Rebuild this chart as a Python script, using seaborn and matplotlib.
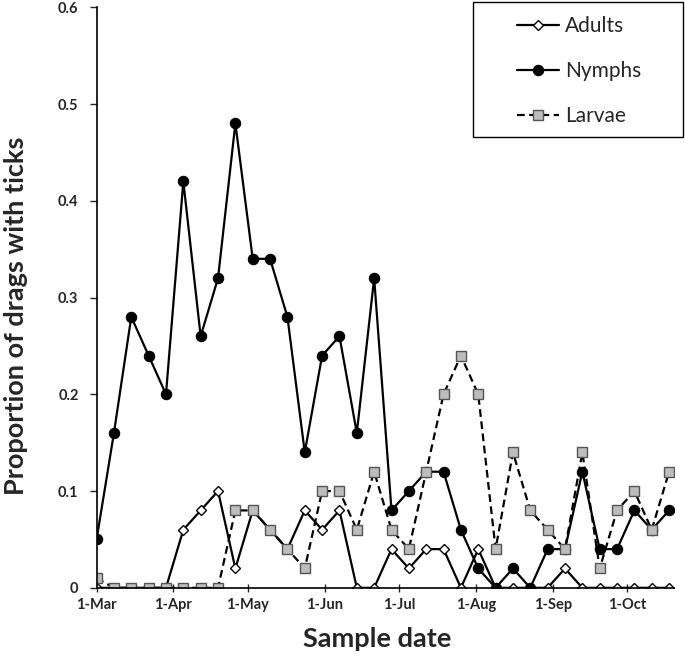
import matplotlib
matplotlib.use("Agg")
import matplotlib.pyplot as plt
import matplotlib.dates as mdates
from matplotlib.patches import Rectangle
import pandas as pd
import seaborn as sns

# Weekly sample dates (Mar - Oct)
sample_dates = [
    "2013-03-01", "2013-03-08", "2013-03-15", "2013-03-22", "2013-03-29",
    "2013-04-05", "2013-04-12", "2013-04-19", "2013-04-26",
    "2013-05-03", "2013-05-10", "2013-05-17", "2013-05-24", "2013-05-31",
    "2013-06-07", "2013-06-14", "2013-06-21", "2013-06-28",
    "2013-07-05", "2013-07-12", "2013-07-19", "2013-07-26",
    "2013-08-02", "2013-08-09", "2013-08-16", "2013-08-23", "2013-08-30",
    "2013-09-06", "2013-09-13", "2013-09-20", "2013-09-27",
    "2013-10-04", "2013-10-11", "2013-10-18",
]

adults = [0, 0, 0, 0, 0, 0.06, 0.08, 0.10, 0.02, 0.08, 0.06, 0.04,
          0.08, 0.06, 0.08, 0, 0, 0.04, 0.02, 0.04, 0.04, 0, 0.04,
          0, 0, 0, 0, 0.02, 0, 0, 0, 0, 0, 0]
nymphs = [0.05, 0.16, 0.28, 0.24, 0.20, 0.42, 0.26, 0.32, 0.48, 0.34,
          0.34, 0.28, 0.14, 0.24, 0.26, 0.16, 0.32, 0.08, 0.10, 0.12,
          0.12, 0.06, 0.02, 0, 0.02, 0, 0.04, 0.04, 0.12, 0.04, 0.04,
          0.08, 0.06, 0.08]
larvae = [0.01, 0, 0, 0, 0, 0, 0, 0, 0.08, 0.08, 0.06, 0.04, 0.02,
          0.10, 0.10, 0.06, 0.12, 0.06, 0.04, 0.12, 0.20, 0.24, 0.20,
          0.04, 0.14, 0.08, 0.06, 0.04, 0.14, 0.02, 0.08, 0.10, 0.06,
          0.12]

month_ticks = ["2013-03-01", "2013-04-01", "2013-05-01", "2013-06-01",
               "2013-07-01", "2013-08-01", "2013-09-01", "2013-10-01"]
y_ticks = [0, 0.1, 0.2, 0.3, 0.4, 0.5, 0.6]
y_tick_labels = ["0", "0.1", "0.2", "0.3", "0.4", "0.5", "0.6"]

dates = pd.to_datetime(sample_dates)

sns.set_style("ticks")
plt.rcParams["font.family"] = ["Lato", "DejaVu Sans"]

fig = plt.figure(figsize=(6.85, 6.59), dpi=100)
ax = fig.add_axes([0.141, 0.108, 0.843, 0.881])

sns.lineplot(x=dates, y=adults, ax=ax, color="black", lw=1.6,
             marker="D", markersize=5.5, markerfacecolor="white",
             markeredgecolor="black", markeredgewidth=1.0, label="Adults")
sns.lineplot(x=dates, y=nymphs, ax=ax, color="black", lw=1.6,
             marker="o", markersize=7.5, markerfacecolor="black",
             markeredgecolor="black", label="Nymphs")
sns.lineplot(x=dates, y=larvae, ax=ax, color="black", lw=1.6,
             linestyle=(0, (3.5, 2)), marker="s", markersize=6.5,
             markerfacecolor="#bdbdbd", markeredgecolor="#555555",
             markeredgewidth=1.0, label="Larvae")

ax.set_xlim(pd.Timestamp("2013-03-01"), pd.Timestamp("2013-10-20"))
ax.set_ylim(0, 0.6)
ax.set_xticks(pd.to_datetime(month_ticks))
ax.xaxis.set_major_formatter(mdates.DateFormatter("%-d-%b"))
ax.set_yticks(y_ticks)
ax.set_yticklabels(y_tick_labels)

for lab in ax.get_xticklabels() + ax.get_yticklabels():
    lab.set_fontweight("bold")
    lab.set_fontsize(10.5)
ax.tick_params(axis="x", direction="inout", length=6, width=1, pad=4)
ax.tick_params(axis="y", direction="out", length=5, width=1, pad=8)

for side in ["top", "right"]:
    ax.spines[side].set_visible(False)
for side in ["left", "bottom"]:
    ax.spines[side].set_linewidth(1.2)
    ax.spines[side].set_color("black")

ax.set_xlabel("Sample date", fontsize=19.5, fontweight="bold")
ax.set_ylabel("Proportion of drags with ticks", fontsize=19.5,
              fontweight="bold")
ax.xaxis.set_label_coords(0.486, -0.068)
ax.yaxis.set_label_coords(-0.118, 0.468)

# legend without its own frame; the box is drawn separately to get
# the wide left margin of the original
leg = ax.legend(loc="upper left", bbox_to_anchor=(0.755, 0.976),
                bbox_transform=fig.transFigure, fontsize=15,
                frameon=False, handlelength=2.0, labelspacing=1.2,
                borderpad=0.0, handletextpad=0.3, borderaxespad=0.0)
fig.patches.append(Rectangle((0.6905, 0.792), 0.3066, 0.2049,
                             transform=fig.transFigure, fill=False,
                             edgecolor="black", linewidth=1.0))

fig.savefig("out.png", dpi=100)
